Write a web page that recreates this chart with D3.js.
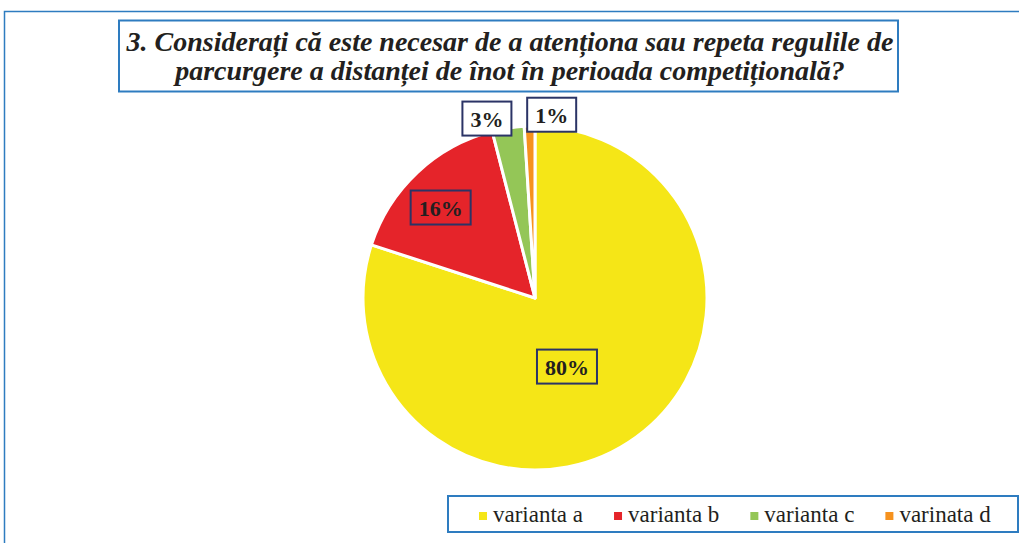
<!DOCTYPE html>
<html>
<head>
<meta charset="utf-8">
<script src="https://cdn.jsdelivr.net/npm/d3@7"></script>
<style>
  body { margin: 0; background: #fff; }
  svg { display: block; }
</style>
</head>
<body>
<div id="chart"></div>
<script>
"use strict";

// === Data ===
const categories = ["varianta a", "varianta b", "varianta c", "varinata d"];
const values = [80, 16, 3, 1];
const valueLabels = ["80%", "16%", "3%", "1%"];
const colors = ["#f5e617", "#e5242a", "#94c657", "#f6921e"];
const titleLines = [
  "3. Considerați că este necesar de a atenționa sau repeta regulile de",
  "parcurgere a distanței de înot în perioada competițională?"
];

// === SVG setup ===
const width = 1019, height = 543;
const blue = "#2e7cc0", navy = "#2b3466";
const serif = "'Liberation Serif', 'Times New Roman', serif";
const cx = 535, cy = 298, radius = 172;

const svg = d3.select("#chart")
  .append("svg")
  .attr("width", width)
  .attr("height", height);

// outer frame (runs off the right and bottom edges)
svg.append("rect")
  .attr("x", 4.5).attr("y", 11.5)
  .attr("width", width + 20).attr("height", height + 20)
  .attr("fill", "none")
  .attr("stroke", blue)
  .attr("stroke-width", 1.5);

// === Title ===
svg.append("rect")
  .attr("x", 119).attr("y", 20.5)
  .attr("width", 779).attr("height", 71)
  .attr("fill", "#fff")
  .attr("stroke", blue)
  .attr("stroke-width", 2);

svg.append("g")
  .selectAll("text")
  .data(titleLines)
  .join("text")
  .attr("x", 510)
  .attr("y", (d, i) => 51 + i * 29)
  .attr("text-anchor", "middle")
  .attr("font-family", serif)
  .attr("font-style", "italic")
  .attr("font-weight", "bold")
  .attr("font-size", "28px")
  .attr("fill", "#231f20")
  .text(d => d);

// === Pie ===
const pie = d3.pie().sort(null).value(d => d);
const arcs = pie(values);
const arc = d3.arc().innerRadius(0).outerRadius(radius);

const g = svg.append("g").attr("transform", `translate(${cx},${cy})`);

g.selectAll("path")
  .data(arcs)
  .join("path")
  .attr("d", arc)
  .attr("fill", (d, i) => colors[i])
  .attr("stroke", "#fff")
  .attr("stroke-width", 3)
  .attr("stroke-linejoin", "round");

// === Data labels ===
// radius factor and angle nudge (deg) per label, like Excel's best fit
const labelRadius = [0.44, 0.76, 1.08, 1.07];
const labelNudge = [11, -3, -6, 7];

arcs.forEach((d, i) => {
  const a = (d.startAngle + d.endAngle) / 2 + labelNudge[i] * Math.PI / 180;
  const r = radius * labelRadius[i];
  const x = Math.sin(a) * r;
  const y = -Math.cos(a) * r;

  const lg = g.append("g");
  const t = lg.append("text")
    .attr("x", x).attr("y", y + 1)
    .attr("text-anchor", "middle")
    .attr("dominant-baseline", "central")
    .attr("font-family", serif)
    .attr("font-weight", "bold")
    .attr("font-size", "22px")
    .attr("fill", "#231f20")
    .text(valueLabels[i]);
  const w = t.node().getComputedTextLength() + 16;
  const h = 34;

  lg.insert("rect", "text")
    .attr("x", x - w / 2).attr("y", y - h / 2)
    .attr("width", w).attr("height", h)
    .attr("fill", labelRadius[i] > 1 ? "#fff" : "none")
    .attr("stroke", navy)
    .attr("stroke-width", 2);
});

// === Legend ===
svg.append("rect")
  .attr("x", 448).attr("y", 496)
  .attr("width", 570).attr("height", 36)
  .attr("fill", "#fff")
  .attr("stroke", blue)
  .attr("stroke-width", 2);

const legend = svg.append("g");
let lx = 479;
categories.forEach((c, i) => {
  legend.append("rect")
    .attr("x", lx).attr("y", 512)
    .attr("width", 8).attr("height", 8)
    .attr("fill", colors[i]);
  const t = legend.append("text")
    .attr("x", lx + 14).attr("y", 522)
    .attr("font-family", serif)
    .attr("font-size", "23px")
    .attr("fill", "#231f20")
    .text(c);
  lx += 14 + t.node().getComputedTextLength() + 31;
});
</script>
</body>
</html>
